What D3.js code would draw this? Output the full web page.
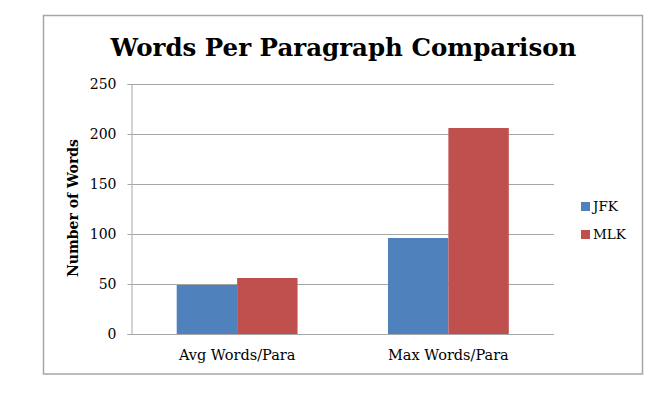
<!DOCTYPE html>
<html><head><meta charset="utf-8">
<script src="https://cdn.jsdelivr.net/npm/d3@7"></script>
<style>body{margin:0;background:#fff}svg{display:block}</style>
</head><body>
<script>
const categories = ["Avg Words/Para", "Max Words/Para"];
const seriesNames = ["JFK", "MLK"];
const jfkValues = [49, 96];
const mlkValues = [56, 206];
const yTicks = [0, 50, 100, 150, 200, 250];
const colors = ["#4F81BD", "#C0504D"];

(function () {
const W = 661, H = 393;
const svg = d3.select("body").append("svg").attr("width", W).attr("height", H);
const serif = "'DejaVu Serif', serif";

svg.append("rect").attr("x", 43.5).attr("y", 15.5).attr("width", 599).attr("height", 358.5)
  .attr("fill", "#fff").attr("stroke", "#a6a6a6").attr("stroke-width", 1.5);

const pLeft = 131.5, pRight = 554, pTop = 84, pBottom = 334;
const y = d3.scaleLinear().domain([0, 250]).range([pBottom, pTop]);
const x0 = d3.scaleBand().domain(categories).range([pLeft, pRight]).padding(0);
const gp = x0.bandwidth() * 0.214;
const x1 = d3.scaleBand().domain(seriesNames).range([gp, x0.bandwidth() - gp]).padding(0);

svg.append("g").selectAll("line").data(yTicks.filter(d => d > 0)).join("line")
  .attr("x1", pLeft).attr("x2", pRight).attr("y1", d => Math.round(y(d)) + 0.5).attr("y2", d => Math.round(y(d)) + 0.5)
  .attr("stroke", "#a6a6a6").attr("stroke-width", 1);

const yAxis = svg.append("g").attr("transform", `translate(${pLeft},0)`)
  .call(d3.axisLeft(y).tickValues(yTicks).tickSize(4).tickPadding(11).tickFormat(d3.format("d")));
yAxis.select(".domain").attr("stroke", "#a6a6a6");
yAxis.selectAll(".tick line").attr("stroke", "#a6a6a6");
yAxis.selectAll("text").attr("font-family", serif).attr("font-size", 14).attr("fill", "#000");

const data = categories.map((c, i) => ({cat: c, vals: [jfkValues[i], mlkValues[i]]}));
const groups = svg.append("g").selectAll("g").data(data).join("g")
  .attr("transform", d => `translate(${x0(d.cat)},0)`);
groups.selectAll("rect").data(d => d.vals.map((v, j) => ({s: seriesNames[j], v, j}))).join("rect")
  .attr("x", d => x1(d.s)).attr("width", x1.bandwidth())
  .attr("y", d => y(d.v)).attr("height", d => y(0) - y(d.v))
  .attr("fill", d => colors[d.j]);

svg.append("line").attr("x1", pLeft).attr("x2", pRight).attr("y1", pBottom + 0.5).attr("y2", pBottom + 0.5)
  .attr("stroke", "#a6a6a6");

svg.append("g").selectAll("text").data(categories).join("text")
  .attr("x", d => x0(d) + x0.bandwidth() / 2).attr("y", 360)
  .attr("text-anchor", "middle").attr("font-family", serif).attr("font-size", 14.5)
  .attr("fill", "#000").text(d => d);

svg.append("text").attr("transform", "translate(78,208) rotate(-90)")
  .attr("text-anchor", "middle").attr("font-family", serif).attr("font-weight", "bold")
  .attr("font-size", 14).attr("fill", "#000").text("Number of Words");

svg.append("text").attr("x", 343.5).attr("y", 56).attr("text-anchor", "middle")
  .attr("font-family", serif).attr("font-weight", "bold").attr("font-size", 24.5)
  .attr("fill", "#000").text("Words Per Paragraph Comparison");

const lg = svg.append("g").selectAll("g").data(seriesNames).join("g")
  .attr("transform", (d, i) => `translate(581,${202 + i * 28})`);
lg.append("rect").attr("width", 9).attr("height", 9).attr("fill", (d, i) => colors[i]);
lg.append("text").attr("x", 12).attr("y", 9).attr("font-family", serif).attr("font-size", 13.5)
  .attr("fill", "#000").text(d => d);
})();
</script>
</body></html>
